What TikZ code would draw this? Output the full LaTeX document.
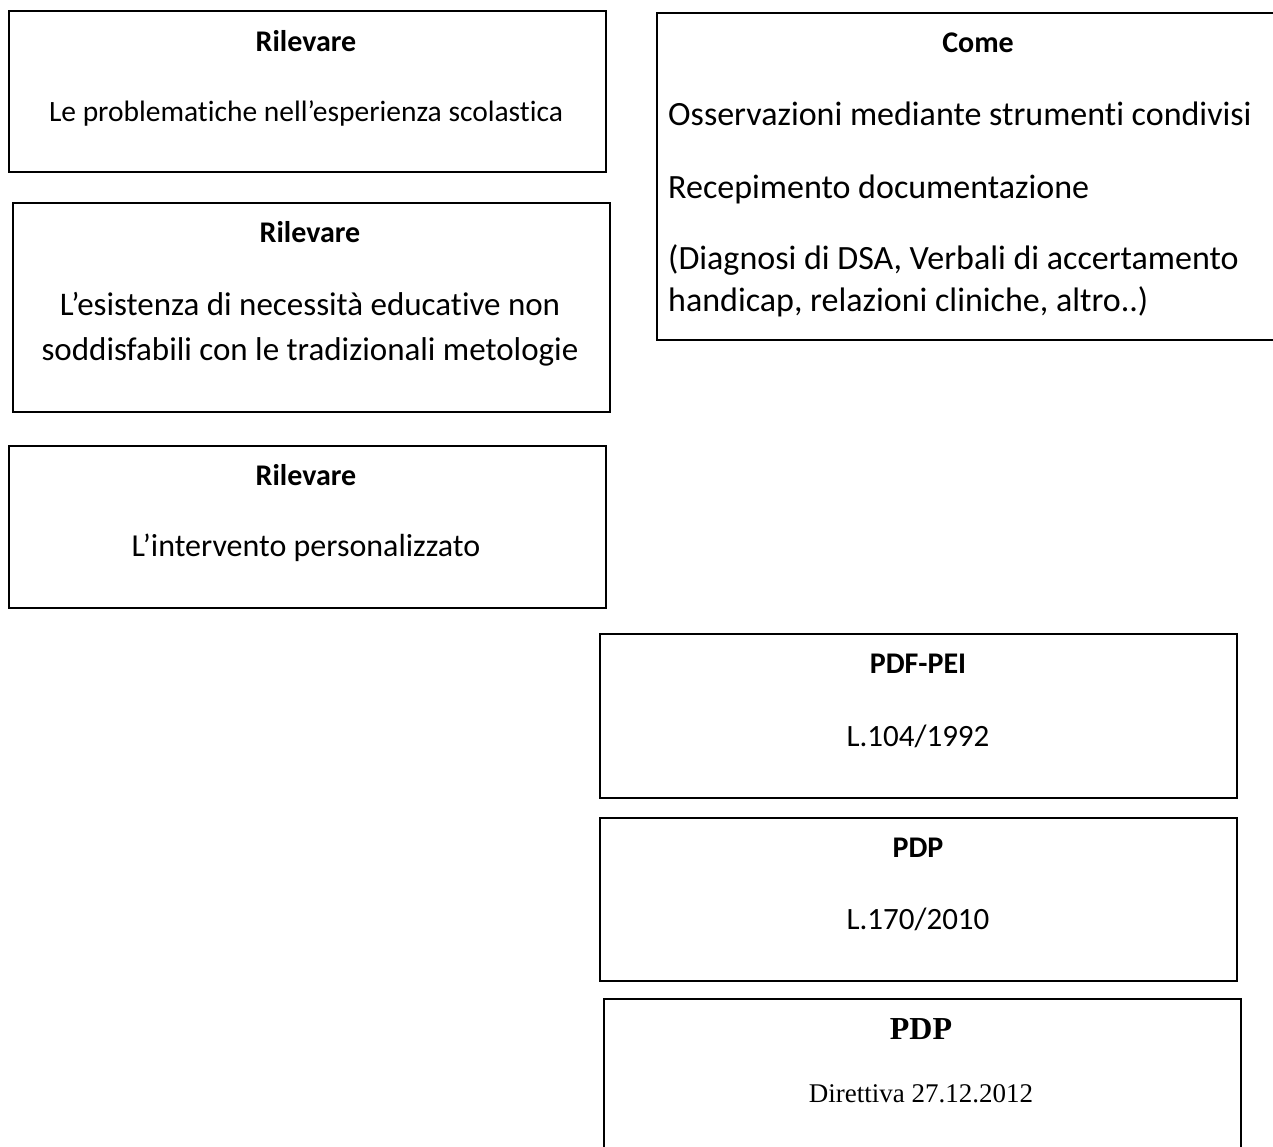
\documentclass[tikz,border=0pt]{standalone}
\usepackage{fontspec}
\setmainfont{Carlito}[RawFeature=-liga]
\newfontfamily\timesfont{Liberation Serif}
\usepackage{tikz}

\begin{document}
\begin{tikzpicture}[x=1pt,y=-1pt,
  box/.style={draw=black,line width=1.7pt,anchor=north west,inner sep=0pt},
  head/.style={anchor=base,inner sep=0pt,font=\fontsize{30}{36}\selectfont\bfseries},
  body/.style={anchor=base,inner sep=0pt}]
\useasboundingbox (0,0) rectangle (1273,1147);

% Rilevare boxes (left column)
\node[box,minimum width=597,minimum height=161] (rilA) at (8,10) {};
\node[head] (rilAt) at (306,52) {Rilevare};
\node[body,font=\fontsize{29.5}{35}\selectfont] (rilAb) at (306,122) {Le problematiche nell’esperienza scolastica};

\node[box,minimum width=597,minimum height=209] (rilB) at (12,202) {};
\node[head] (rilBt) at (310,243) {Rilevare};
\node[body,font=\fontsize{33}{40}\selectfont] (rilBa) at (310,316) {L’esistenza di necessità educative non};
\node[body,font=\fontsize{33}{40}\selectfont] (rilBb) at (310,360) {soddisfabili con le tradizionali metologie};

\node[box,minimum width=597,minimum height=162] (rilC) at (8,445) {};
\node[head] (rilCt) at (306,485) {Rilevare};
\node[body,font=\fontsize{32}{38}\selectfont] (rilCb) at (306,556) {L’intervento personalizzato};

% Come box (cut by the page edge)
\node[box,minimum width=644,minimum height=327] (come) at (656,12) {};
\node[head] (comet) at (978,53) {Come};
\node[body,anchor=base west,font=\fontsize{34}{41}\selectfont] (comeA) at (668,126) {Osservazioni mediante strumenti condivisi};
\node[body,anchor=base west,font=\fontsize{34}{41}\selectfont] (comeB) at (668,199) {Recepimento documentazione};
\node[body,anchor=base west,font=\fontsize{34}{41}\selectfont] (comeC) at (668,270) {(Diagnosi di DSA, Verbali di accertamento};
\node[body,anchor=base west,font=\fontsize{34}{41}\selectfont] (comeD) at (668,312) {handicap, relazioni cliniche, altro..)};

% documents (right column)
\node[box,minimum width=637,minimum height=164] (pei) at (599,633) {};
\node[head] (peit) at (918,673) {PDF-PEI};
\node[body,font=\fontsize{31}{37}\selectfont] (peib) at (918,746) {L.104/1992};

\node[box,minimum width=637,minimum height=163] (pdp) at (599,817) {};
\node[head] (pdpt) at (918,857) {PDP};
\node[body,font=\fontsize{31}{37}\selectfont] (pdpb) at (918,929) {L.170/2010};

\node[box,minimum width=637,minimum height=167] (dir) at (603,998) {};
\node[head,font=\fontsize{32}{38}\selectfont\timesfont\bfseries] (dirt) at (921,1039) {PDP};
\node[body,font=\fontsize{27}{32}\selectfont\timesfont] (dirb) at (921,1102) {Direttiva 27.12.2012};

\end{tikzpicture}
\end{document}
